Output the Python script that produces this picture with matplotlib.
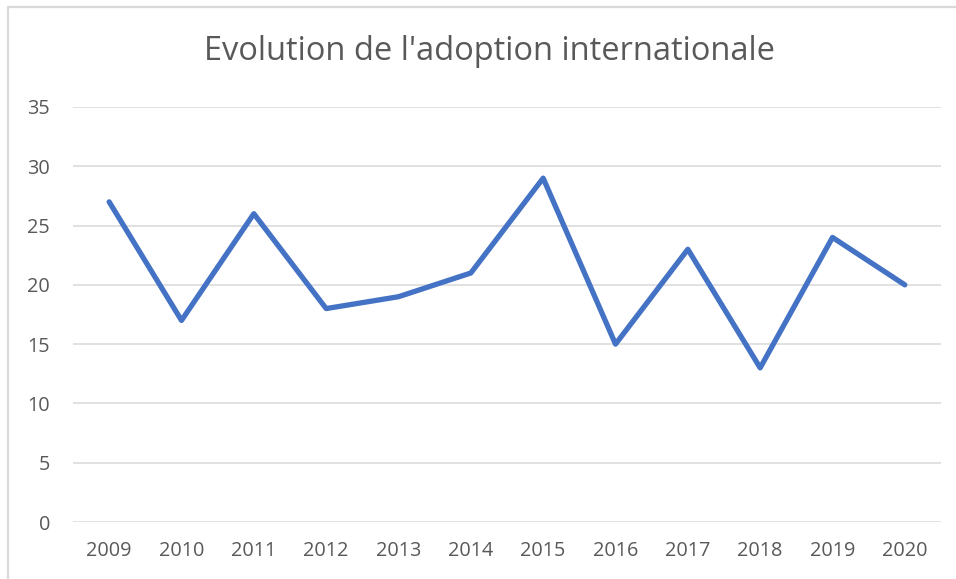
import matplotlib
matplotlib.use("Agg")
import matplotlib.pyplot as plt
from matplotlib.patches import Rectangle

years = ["2009", "2010", "2011", "2012", "2013", "2014", "2015", "2016", "2017", "2018", "2019", "2020"]
values = [27, 17, 26, 18, 19, 21, 29, 15, 23, 13, 24, 20]
yticks = [0, 5, 10, 15, 20, 25, 30, 35]
title = "Evolution de l'adoption internationale"

W, H = 956, 579
fig = plt.figure(figsize=(W / 100, H / 100), dpi=100)
plt.rcParams['font.family'] = ['Open Sans', 'DejaVu Sans']

left, right, top, bottom = 73, 941, 107, 522
ax = fig.add_axes([left / W, 1 - bottom / H, (right - left) / W, (bottom - top) / H])

x = list(range(len(years)))
ax.plot(x, values, color="#4472C4", linewidth=3.8, solid_joinstyle="round",
        solid_capstyle="round", clip_on=False, zorder=3)

ax.set_xlim(-0.5, len(years) - 0.5)
ax.set_ylim(0, 35)
ax.set_yticks(yticks)
ax.set_yticklabels([str(v) for v in yticks])
ax.set_xticks(x)
ax.set_xticklabels(years)
ax.grid(axis="y", color="#D9D9D9", linewidth=1.1)
ax.set_axisbelow(True)
for s in ax.spines.values():
    s.set_visible(False)
ax.tick_params(axis="both", length=0, labelsize=14.3, colors="#595959")
ax.tick_params(axis="y", pad=16.5)
ax.tick_params(axis="x", pad=13.5)

fig.text(490 / W, 1 - 52 / H, title, ha="center", va="center", fontsize=23.5, color="#595959")

fig.patches.append(Rectangle((8 / W, -0.1), 1.2, 1 - 7 / H + 0.1, transform=fig.transFigure,
                             fill=False, edgecolor="#D9D9D9", linewidth=1.6))

fig.savefig("out.png", dpi=100)
